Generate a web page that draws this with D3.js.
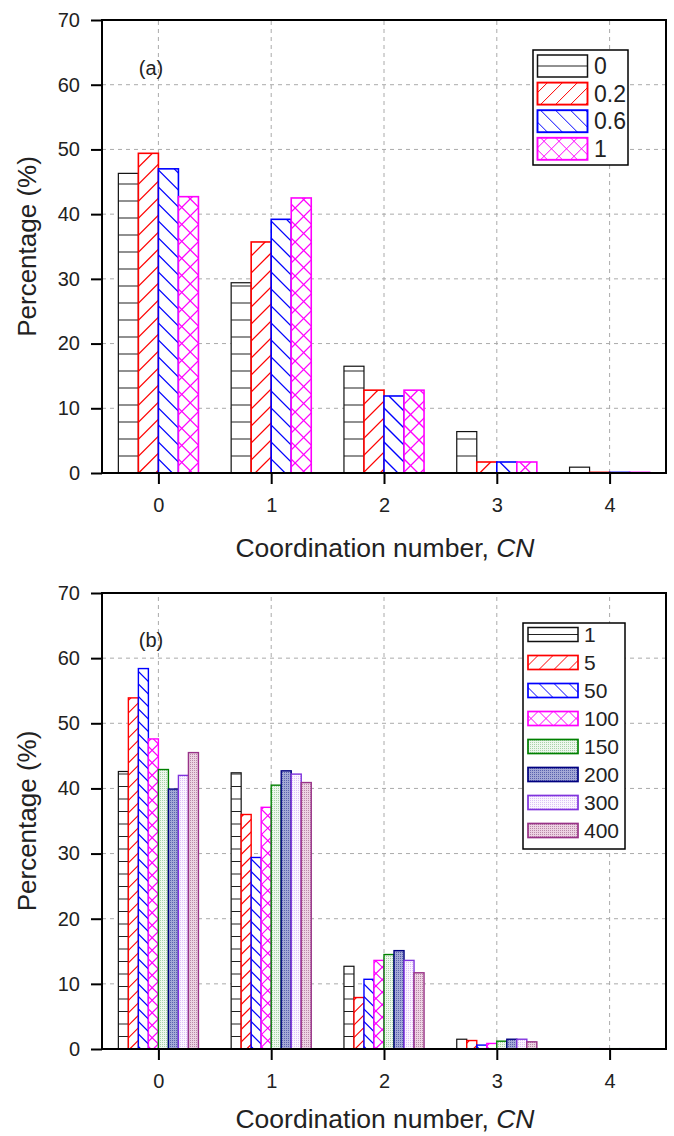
<!DOCTYPE html>
<html><head><meta charset="utf-8">
<script src="https://cdn.jsdelivr.net/npm/d3@7"></script>
<style>html,body{margin:0;padding:0;background:#fff;}svg{display:block;font-family:"Liberation Sans",Arial,sans-serif;}</style>
</head><body>
<script>
// ---------- data ----------
const cnCategories = [0, 1, 2, 3, 4];
const yTicks = [0, 10, 20, 30, 40, 50, 60, 70];

// (a)
const seriesA = ["0", "0.2", "0.6", "1"];
const a_0   = [46.3, 29.4, 16.5, 6.4, 0.9];
const a_0_2 = [49.4, 35.7, 12.8, 1.7, 0.1];
const a_0_6 = [47.0, 39.2, 11.9, 1.7, 0.1];
const a_1   = [42.7, 42.5, 12.8, 1.7, 0.1];

// (b)
const seriesB = ["1", "5", "50", "100", "150", "200", "300", "400"];
const b_1   = [42.6, 42.4, 12.7, 1.5, 0.05];
const b_5   = [53.9, 36.0, 7.9, 1.3, 0.05];
const b_50  = [58.4, 29.4, 10.7, 0.6, 0.05];
const b_100 = [47.6, 37.1, 13.6, 0.85, 0.05];
const b_150 = [42.9, 40.5, 14.5, 1.2, 0.05];
const b_200 = [39.9, 42.7, 15.1, 1.5, 0.05];
const b_300 = [42.0, 42.2, 13.6, 1.5, 0.05];
const b_400 = [45.5, 40.9, 11.7, 1.1, 0.05];

// ---------- drawing ----------
const W = 674, H = 1136;
const svg = d3.select("body").append("svg").attr("width", W).attr("height", H);
const defs = svg.append("defs");
let clipN = 0;

function dots(id, base, dot) {
  const p = defs.append("pattern").attr("id", id).attr("patternUnits", "userSpaceOnUse")
    .attr("width", 2).attr("height", 2);
  p.append("rect").attr("width", 2).attr("height", 2).attr("fill", base);
  p.append("rect").attr("width", 1).attr("height", 1).attr("fill", dot);
}
dots("pb4", "#eef7ee", "#a8d2a8");
dots("pb5", "#a4a9d6", "#5a62ae");
dots("pb6", "#fbf5ff", "#dcc0f6");
dots("pb7", "#edd3e3", "#b98aa8");

// draw a (possibly hatched) box
function box(g, bx, by, w, h, st, P, single) {
  if (st.kind === "dot") {
    g.append("rect").attr("x", bx).attr("y", by).attr("width", w).attr("height", Math.max(h, 0.01))
      .attr("fill", st.fill).attr("stroke", st.stroke).attr("stroke-width", st.sw);
    return;
  }
  g.append("rect").attr("x", bx).attr("y", by).attr("width", w).attr("height", Math.max(h, 0.01)).attr("fill", "#fff");
  if (h > 1) {
    const id = "clip" + (clipN++);
    defs.append("clipPath").attr("id", id).append("rect")
      .attr("x", bx).attr("y", by).attr("width", w).attr("height", h);
    const hg = g.append("g").attr("clip-path", `url(#${id})`);
    const segs = [];
    const L = w + h;
    if (st.kind === "h") {
      if (single) segs.push([0, h / 2, w, h / 2]);
      else for (let yy = h - P; yy > 0.5; yy -= P) segs.push([0, yy, w, yy]);
    }
    if (st.kind === "f" || st.kind === "x") {
      for (let u = -L; u < w + P; u += P) segs.push([u, h, u + L, h - L]);
    }
    if (st.kind === "b" || st.kind === "x") {
      for (let u = -L; u < w + P; u += P) segs.push([u, 0, u + L, L]);
    }
    hg.selectAll("line").data(segs).join("line")
      .attr("x1", d => bx + d[0]).attr("y1", d => by + d[1])
      .attr("x2", d => bx + d[2]).attr("y2", d => by + d[3])
      .attr("stroke", st.hatch).attr("stroke-width", st.hw);
  }
  g.append("rect").attr("x", bx).attr("y", by).attr("width", w).attr("height", Math.max(h, 0.01))
    .attr("fill", "none").attr("stroke", st.stroke).attr("stroke-width", st.sw);
}

const stylesA = [
  {kind: "h", hatch: "#222", hw: 1.1, stroke: "#111", sw: 1.2},
  {kind: "f", hatch: "#ff0000", hw: 1.3, stroke: "#ff0000", sw: 1.6},
  {kind: "b", hatch: "#0000ff", hw: 1.3, stroke: "#0000ff", sw: 1.6},
  {kind: "x", hatch: "#ff00ff", hw: 1.3, stroke: "#ff00ff", sw: 1.6}
];
const stylesB = [
  {kind: "h", hatch: "#222", hw: 1.1, stroke: "#111", sw: 1.2},
  {kind: "f", hatch: "#ff0000", hw: 1.2, stroke: "#ff0000", sw: 1.4},
  {kind: "b", hatch: "#0000ff", hw: 1.2, stroke: "#0000ff", sw: 1.4},
  {kind: "x", hatch: "#ff00ff", hw: 1.2, stroke: "#ff00ff", sw: 1.4},
  {kind: "dot", fill: "url(#pb4)", stroke: "#008000", sw: 1.4},
  {kind: "dot", fill: "url(#pb5)", stroke: "#000080", sw: 1.4},
  {kind: "dot", fill: "url(#pb6)", stroke: "#8033dd", sw: 1.4},
  {kind: "dot", fill: "url(#pb7)", stroke: "#993388", sw: 1.4}
];

function drawChart(cfg) {
  const g = svg.append("g");
  const x = d3.scaleLinear().domain([-0.5, 4.5]).range([102, 666]);
  const y = d3.scaleLinear().domain([0, 70]).range([cfg.y0, cfg.y1]);
  const groupW = x(0.71) - x(0);
  const xb = d3.scaleBand().domain(cfg.series).range([-groupW / 2, groupW / 2]).padding(0);

  // grid
  g.append("g").selectAll("line").data(yTicks.filter(t => t > 0 && t < 70)).join("line")
    .attr("x1", 102).attr("x2", 666).attr("y1", d => y(d)).attr("y2", d => y(d))
    .attr("stroke", "#aaa").attr("stroke-width", 1).attr("stroke-dasharray", "4,4");
  g.append("g").selectAll("line").data(cnCategories).join("line")
    .attr("x1", d => x(d)).attr("x2", d => x(d)).attr("y1", cfg.y0).attr("y2", cfg.y1)
    .attr("stroke", "#aaa").attr("stroke-width", 1).attr("stroke-dasharray", "4,4");

  // bars
  const bg = g.append("g");
  cfg.series.forEach((s, i) => {
    const st = cfg.styles[i];
    cfg.values[i].forEach((v, j) => {
      box(bg, x(cnCategories[j]) + xb(s), y(v), xb.bandwidth(), y(0) - y(v), st, cfg.P, false);
    });
  });

  // axes
  const ax = g.append("g").attr("transform", `translate(0,${cfg.y0})`)
    .call(d3.axisBottom(x).tickValues(cnCategories).tickSize(11).tickPadding(14).tickFormat(d3.format("d")));
  const ay = g.append("g").attr("transform", "translate(102,0)")
    .call(d3.axisLeft(y).tickValues(yTicks).tickSize(11).tickPadding(11));
  [ax, ay].forEach(a => {
    a.select(".domain").remove();
    a.selectAll(".tick line").attr("stroke", "#000").attr("stroke-width", 2);
    a.selectAll(".tick text").attr("fill", "#222").style("font-size", "20px")
      .style("font-family", '"Liberation Sans",Arial,sans-serif');
  });

  // frame
  g.append("rect").attr("x", 102).attr("y", cfg.y1).attr("width", 564).attr("height", cfg.y0 - cfg.y1)
    .attr("fill", "none").attr("stroke", "#000").attr("stroke-width", 2);

  // titles
  g.append("text").attr("transform", `translate(36,${(cfg.y0 + cfg.y1) / 2}) rotate(-90)`)
    .attr("text-anchor", "middle").attr("fill", "#222").style("font-size", "26px").text("Percentage (%)");
  const xt = g.append("text").attr("x", 385).attr("y", cfg.titleY).attr("text-anchor", "middle")
    .attr("fill", "#222").style("font-size", "26.5px");
  xt.append("tspan").text("Coordination number, ");
  xt.append("tspan").style("font-style", "italic").text("CN");
  g.append("text").attr("x", 151).attr("y", cfg.panelY).attr("text-anchor", "middle")
    .attr("fill", "#222").style("font-size", "20px").text(cfg.panel);

  // legend
  const L = cfg.legend;
  g.append("rect").attr("x", L.x).attr("y", L.y).attr("width", L.w).attr("height", L.h)
    .attr("fill", "#fff").attr("stroke", "#000").attr("stroke-width", 1.5);
  cfg.series.forEach((s, i) => {
    const st = Object.assign({}, cfg.styles[i]);
    st.sw = st.sw + 0.3;
    st.hw = 1;
    const ry = L.y0 + i * L.step;
    box(g, L.sx, ry, 50, L.sh, st, L.P, true);
    g.append("text").attr("x", L.tx).attr("y", ry + L.sh / 2).attr("dy", "0.36em")
      .attr("fill", "#222").style("font-size", L.fs + "px").text(s);
  });
}

drawChart({
  y0: 473, y1: 20, series: seriesA, values: [a_0, a_0_2, a_0_6, a_1], styles: stylesA, P: 17,
  panel: "(a)", panelY: 75, titleY: 557,
  legend: {x: 533, y: 50, w: 95, h: 115, sx: 537.5, y0: 55, step: 27.6, sh: 22, tx: 594, fs: 23, P: 15}
});
drawChart({
  y0: 1049, y1: 593, series: seriesB, values: [b_1, b_5, b_50, b_100, b_150, b_200, b_300, b_400], styles: stylesB, P: 12.5,
  panel: "(b)", panelY: 647, titleY: 1128,
  legend: {x: 523, y: 623, w: 102, h: 226, sx: 528, y0: 627.5, step: 28, sh: 14, tx: 584, fs: 21, P: 15}
});
</script>
</body></html>
